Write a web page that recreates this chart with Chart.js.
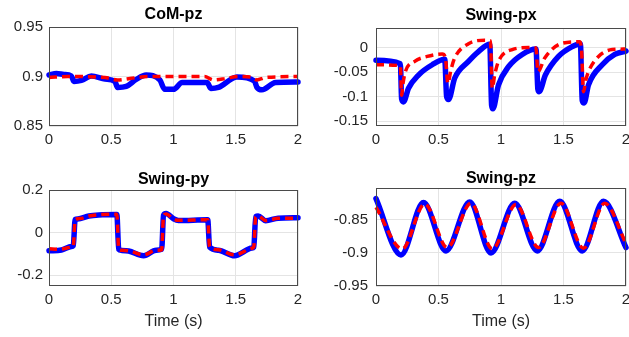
<!DOCTYPE html>
<html lang="en">

<head>
    <meta charset="UTF-8" />
    <title>Swing leg tracking</title>
    <script src="https://cdn.jsdelivr.net/npm/chart.js@4.4.0/dist/chart.umd.min.js"></script>
    <style>
        body {
            margin: 0;
            background: #fff;
            overflow: hidden;
        }

        .panel {
            position: absolute;
        }
    </style>
</head>

<body>
    <div class="panel" style="left:0;top:0"><canvas id="comPz" width="315" height="165"></canvas></div>
    <div class="panel" style="left:315px;top:0"><canvas id="swingPx" width="314" height="165"></canvas></div>
    <div class="panel" style="left:0;top:165px"><canvas id="swingPy" width="315" height="172"></canvas></div>
    <div class="panel" style="left:315px;top:165px"><canvas id="swingPz" width="314" height="172"></canvas></div>

    <script>
        // time axis ticks, shared by all four panels
        const timeTicks = [0, 0.5, 1, 1.5, 2];

        // CoM-pz
        const comPzTicks = [0.85, 0.9, 0.95];
        const comPzActualT = [0, 0.06, 0.12, 0.18, 0.2, 0.26, 0.34, 0.45, 0.53, 0.55, 0.62, 0.7, 0.78, 0.89, 0.93, 1.0, 1.07, 1.27, 1.3, 1.36, 1.51, 1.65, 1.67, 1.71, 1.82, 2.0];
        const comPzActual = [0.9015, 0.903, 0.902, 0.9005, 0.895, 0.896, 0.9005, 0.8975, 0.895, 0.889, 0.89, 0.897, 0.9015, 0.8965, 0.887, 0.887, 0.894, 0.894, 0.888, 0.889, 0.8995, 0.8955, 0.889, 0.8865, 0.894, 0.8945];
        const comPzRefT = [0, 0.15, 0.45, 0.55, 0.65, 0.8, 1.25, 1.32, 1.42, 1.52, 1.62, 1.67, 1.74, 2.0];
        const comPzRef = [0.899, 0.9, 0.899, 0.8965, 0.898, 0.9, 0.9, 0.8965, 0.898, 0.9, 0.8995, 0.8965, 0.899, 0.9];

        // Swing-px
        const swingPxTicks = [-0.15, -0.1, -0.05, 0];
        const swingPxActualT = [0, 0.195, 0.205, 0.22, 0.26, 0.34, 0.45, 0.55, 0.565, 0.58, 0.63, 0.74, 0.82, 0.91, 0.925, 0.935, 0.98, 1.06, 1.17, 1.28, 1.295, 1.305, 1.355, 1.46, 1.57, 1.635, 1.65, 1.665, 1.7, 1.81, 1.91, 2.0];
        const swingPxActual = [-0.026, -0.033, -0.105, -0.111, -0.083, -0.056, -0.035, -0.024, -0.1, -0.106, -0.062, -0.028, -0.008, 0.007, -0.118, -0.125, -0.076, -0.039, -0.014, -0.003, -0.085, -0.09, -0.056, -0.018, 0.002, 0.008, -0.108, -0.113, -0.076, -0.035, -0.014, -0.007];
        const swingPxRefT = [0, 0.195, 0.205, 0.215, 0.235, 0.31, 0.41, 0.53, 0.555, 0.575, 0.6, 0.63, 0.74, 0.87, 0.915, 0.93, 0.95, 0.98, 1.09, 1.22, 1.28, 1.295, 1.35, 1.49, 1.63, 1.645, 1.66, 1.68, 1.7, 1.78, 1.89, 2.0];
        const swingPxRef = [-0.035, -0.037, -0.097, -0.075, -0.049, -0.028, -0.018, -0.013, -0.02, -0.073, -0.045, -0.021, 0.008, 0.015, 0.014, -0.083, -0.055, -0.028, -0.004, 0.0, -0.001, -0.049, -0.021, 0.009, 0.012, -0.008, -0.09, -0.065, -0.049, -0.018, -0.004, -0.003];

        // Swing-py
        const swingPyTicks = [-0.2, 0, 0.2];
        const swingPyActualT = [0, 0.1, 0.18, 0.195, 0.21, 0.23, 0.32, 0.4, 0.545, 0.56, 0.58, 0.64, 0.76, 0.86, 0.905, 0.92, 0.94, 1.0, 1.04, 1.275, 1.29, 1.36, 1.49, 1.63, 1.645, 1.66, 1.68, 1.74, 1.84, 2.0];
        const swingPyActual = [-0.085, -0.081, -0.065, -0.061, 0.062, 0.064, 0.078, 0.083, 0.085, -0.078, -0.083, -0.086, -0.108, -0.082, -0.078, 0.082, 0.09, 0.065, 0.057, 0.06, -0.068, -0.082, -0.108, -0.072, -0.068, 0.075, 0.078, 0.056, 0.068, 0.07];
        const swingPyRefT = [0, 0.08, 0.18, 0.195, 0.21, 0.25, 0.32, 0.4, 0.545, 0.56, 0.58, 0.64, 0.76, 0.86, 0.905, 0.92, 0.94, 1.0, 1.04, 1.275, 1.29, 1.36, 1.49, 1.63, 1.645, 1.66, 1.68, 1.74, 1.84, 2.0];
        const swingPyRef = [-0.075, -0.078, -0.068, -0.063, 0.06, 0.066, 0.078, 0.084, 0.086, -0.076, -0.082, -0.085, -0.104, -0.083, -0.08, 0.08, 0.088, 0.064, 0.058, 0.061, -0.066, -0.08, -0.104, -0.073, -0.066, 0.073, 0.078, 0.057, 0.067, 0.068];

        // Swing-pz
        const swingPzTicks = [-0.95, -0.9, -0.85];
        const swingPzActualT = [0, 0.2, 0.38, 0.56, 0.75, 0.92, 1.11, 1.29, 1.47, 1.65, 1.82, 2.0];
        const swingPzActual = [-0.818, -0.903, -0.824, -0.897, -0.823, -0.9, -0.825, -0.897, -0.822, -0.897, -0.822, -0.892];
        const swingPzRefT = [0, 0.21, 0.39, 0.57, 0.76, 0.93, 1.12, 1.3, 1.48, 1.66, 1.83, 2.0];
        const swingPzRef = [-0.831, -0.894, -0.826, -0.892, -0.825, -0.894, -0.827, -0.892, -0.825, -0.893, -0.825, -0.886];

        const tickColor = "#262626";
        const gridColor = "#e4e4e4";
        const fontFamily = "'Liberation Sans', Arial, sans-serif";

        function pairs(ts, vs) {
            return ts.map((t, i) => ({ x: t, y: vs[i] }));
        }

        // draws the full box round the plot area, like matlab "box on"
        const boxPlugin = {
            id: "box",
            afterDatasetsDraw(chart) {
                const { ctx, chartArea: a } = chart;
                ctx.save();
                ctx.strokeStyle = "#4a4a4a";
                ctx.lineWidth = 1;
                ctx.strokeRect(Math.round(a.left) + 0.5, Math.round(a.top) + 0.5,
                    Math.round(a.right - a.left) - 1, Math.round(a.bottom - a.top) - 1);
                ctx.restore();
            }
        };

        function makePanel(id, p) {
            return new Chart(id, {
                type: "line",
                plugins: [boxPlugin],
                data: {
                    datasets: [{
                        label: "reference",
                        data: pairs(p.refT, p.ref),
                        borderColor: "#ff0000",
                        borderWidth: 3.5,
                        borderDash: [8, 5],
                        pointRadius: 0,
                        cubicInterpolationMode: "monotone",
                        clip: 3
                    }, {
                        label: "actual",
                        data: pairs(p.actT, p.act),
                        borderColor: "#0000ff",
                        borderWidth: 5.5,
                        borderJoinStyle: "round",
                        borderCapStyle: "round",
                        pointRadius: 0,
                        cubicInterpolationMode: "monotone",
                        clip: 3
                    }]
                },
                options: {
                    responsive: false,
                    animation: false,
                    events: [],
                    layout: {
                        padding: { left: 0, right: p.padRight, top: 0, bottom: 0 }
                    },
                    plugins: {
                        legend: { display: false },
                        tooltip: { enabled: false },
                        title: {
                            display: true,
                            fullSize: false,
                            text: p.title,
                            color: "#000",
                            font: { family: fontFamily, size: 16, weight: "bold", lineHeight: 1.2 },
                            padding: p.titlePad
                        }
                    },
                    scales: {
                        x: {
                            type: "linear",
                            min: 0,
                            max: 2,
                            afterBuildTicks: s => { s.ticks = timeTicks.map(v => ({ value: v })); },
                            afterFit: s => { s.height = p.xHeight; s.paddingLeft = 0; s.paddingRight = 0; },
                            grid: { color: gridColor, drawTicks: false },
                            border: { display: false },
                            ticks: {
                                color: tickColor,
                                padding: 5,
                                maxRotation: 0,
                                font: { family: fontFamily, size: 15, lineHeight: 1.2 },
                                callback: v => String(v)
                            },
                            title: {
                                display: p.xTitle,
                                text: "Time (s)",
                                color: tickColor,
                                font: { family: fontFamily, size: 16, lineHeight: 1.2 },
                                padding: { top: 0, bottom: 5.5 }
                            }
                        },
                        y: {
                            min: p.yMin,
                            max: p.yMax,
                            afterBuildTicks: s => { s.ticks = p.yTicks.map(v => ({ value: v })); },
                            afterFit: s => { s.width = p.yWidth; s.paddingTop = 0; s.paddingBottom = 0; },
                            grid: { color: gridColor, drawTicks: false },
                            border: { display: false },
                            ticks: {
                                color: tickColor,
                                padding: p.yPad,
                                font: { family: fontFamily, size: 15, lineHeight: 1.2 },
                                callback: v => String(v)
                            }
                        }
                    }
                }
            });
        }

        makePanel("comPz", {
            title: "CoM-pz", refT: comPzRefT, ref: comPzRef, actT: comPzActualT, act: comPzActual,
            yMin: 0.85, yMax: 0.95, yTicks: comPzTicks,
            yWidth: 49, yPad: 6, padRight: 17, xHeight: 39, xTitle: false,
            titlePad: { top: 5.4, bottom: 2.4 }
        });

        makePanel("swingPx", {
            title: "Swing-px", refT: swingPxRefT, ref: swingPxRef, actT: swingPxActualT, act: swingPxActual,
            yMin: -0.16, yMax: 0.04, yTicks: swingPxTicks,
            yWidth: 61, yPad: 8, padRight: 3, xHeight: 39, xTitle: false,
            titlePad: { top: 6.4, bottom: 2.4 }
        });

        makePanel("swingPy", {
            title: "Swing-py", refT: swingPyRefT, ref: swingPyRef, actT: swingPyActualT, act: swingPyActual,
            yMin: -0.25, yMax: 0.2, yTicks: swingPyTicks,
            yWidth: 49, yPad: 6, padRight: 17, xHeight: 51, xTitle: true,
            titlePad: { top: 5.4, bottom: 0.4 }
        });

        makePanel("swingPz", {
            title: "Swing-pz", refT: swingPzRefT, ref: swingPzRef, actT: swingPzActualT, act: swingPzActual,
            yMin: -0.95, yMax: -0.802, yTicks: swingPzTicks,
            yWidth: 61, yPad: 8, padRight: 3, xHeight: 51, xTitle: true,
            titlePad: { top: 3.7, bottom: 0.1 }
        });
    </script>
</body>

</html>
